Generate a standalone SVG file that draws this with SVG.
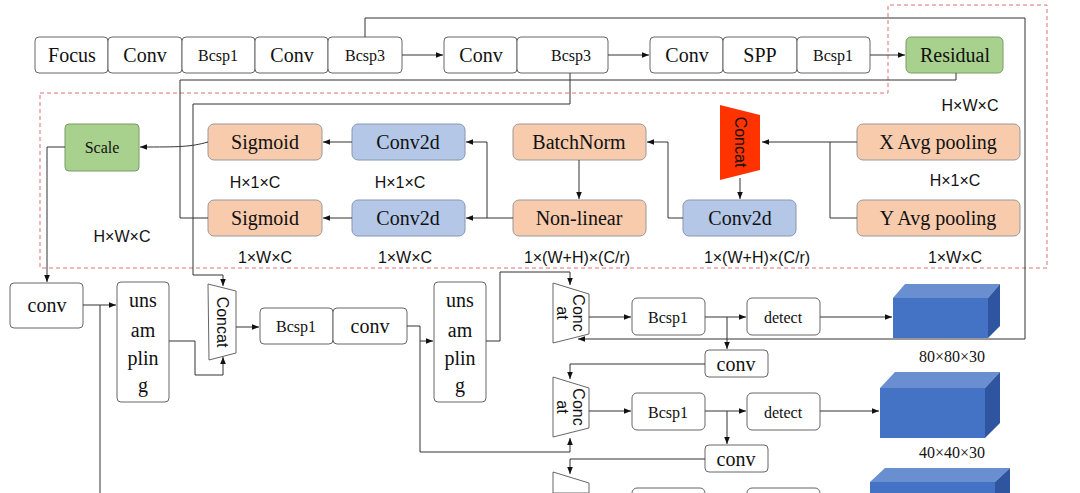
<svg xmlns="http://www.w3.org/2000/svg" width="1080" height="493" viewBox="0 0 1080 493">
<defs>
<marker id="a" viewBox="0 0 10 10" refX="10" refY="5" markerWidth="7" markerHeight="7" orient="auto"><path d="M0,1L10,5L0,9z" fill="#111"/></marker>
<style>
.b{fill:#fff;stroke:#666;stroke-width:1}
.o{fill:#f8cbad;stroke:#999;stroke-width:1}
.u{fill:#b4c7e7;stroke:#8896b0;stroke-width:1}
.g{fill:#a9d18e;stroke:#7a9a68;stroke-width:1}
.t{font-family:"Liberation Serif",serif;font-size:20px;fill:#111;text-anchor:middle;dominant-baseline:central}
.s{font-family:"Liberation Serif",serif;font-size:16px;fill:#111;text-anchor:middle;dominant-baseline:central}
.l{font-family:"Liberation Sans",sans-serif;font-size:16px;fill:#111;text-anchor:middle;dominant-baseline:central}
.c path,.c polyline,.c line{fill:none;stroke:#333;stroke-width:1}
.ar{marker-end:url(#a)}
</style>
</defs>
<rect width="1080" height="493" fill="#fff"/>
<path d="M40,93H888V5H1047V268H40Z" fill="none" stroke="#e07070" stroke-dasharray="4,3" stroke-width="1"/>
<g id="top">
<rect class="b" x="35" y="37" width="73" height="36" rx="4"/><text class="t" x="72" y="55">Focus</text>
<rect class="b" x="108" y="37" width="74" height="36" rx="4"/><text class="t" x="145" y="55">Conv</text>
<rect class="b" x="182" y="37" width="73" height="36" rx="4"/><text class="s" x="218" y="55">Bcsp1</text>
<rect class="b" x="255" y="37" width="73" height="36" rx="4"/><text class="t" x="292" y="55">Conv</text>
<rect class="b" x="328" y="37" width="74" height="36" rx="4"/><text class="s" x="365" y="55">Bcsp3</text>
<rect class="b" x="444" y="37" width="73" height="36" rx="4"/><text class="t" x="481" y="55">Conv</text>
<rect class="b" x="517" y="37" width="91" height="36" rx="4"/><text class="s" x="571" y="55">Bcsp3</text>
<rect class="b" x="650" y="37" width="73" height="36" rx="4"/><text class="t" x="687" y="55">Conv</text>
<rect class="b" x="723" y="37" width="74" height="36" rx="4"/><text class="t" x="760" y="55">SPP</text>
<rect class="b" x="797" y="37" width="73" height="36" rx="4"/><text class="s" x="833" y="55">Bcsp1</text>
</g>
<g id="residual"><rect class="g" x="906" y="37" width="97" height="36" rx="5"/><text class="t" x="955" y="55">Residual</text></g>
<g id="mid">
<rect class="g" x="65" y="124" width="74" height="47" rx="4"/><text class="s" x="102" y="147">Scale</text>
<rect class="o" x="208" y="124" width="114" height="36" rx="6"/><text class="t" x="265" y="142">Sigmoid</text>
<rect class="u" x="352" y="124" width="113" height="36" rx="6"/><text class="t" x="408" y="142">Conv2d</text>
<rect class="o" x="513" y="124" width="133" height="36" rx="6"/><text class="t" x="579" y="142">BatchNorm</text>
<polygon points="720,105 760,115 760,170 720,180" fill="#ff3300"/>
<text class="l" transform="translate(740,142) rotate(90)" fill="#222">Concat</text>
<rect class="o" x="857" y="124" width="163" height="36" rx="6"/><text class="t" x="938" y="142">X Avg pooling</text>
<rect class="o" x="208" y="200" width="114" height="36" rx="6"/><text class="t" x="265" y="218">Sigmoid</text>
<rect class="u" x="352" y="200" width="113" height="36" rx="6"/><text class="t" x="408" y="218">Conv2d</text>
<rect class="o" x="513" y="200" width="133" height="36" rx="6"/><text class="t" x="579" y="218">Non-linear</text>
<rect class="u" x="683" y="200" width="113" height="36" rx="6"/><text class="t" x="740" y="218">Conv2d</text>
<rect class="o" x="857" y="200" width="163" height="36" rx="6"/><text class="t" x="938" y="218">Y Avg pooling</text>
</g>
<g id="labels">
<text class="l" x="970" y="105">H×W×C</text>
<text class="l" x="255" y="182">H×1×C</text>
<text class="l" x="400" y="182">H×1×C</text>
<text class="l" x="955" y="180">H×1×C</text>
<text class="l" x="122" y="236">H×W×C</text>
<text class="l" x="265" y="257">1×W×C</text>
<text class="l" x="405" y="257">1×W×C</text>
<text class="l" x="577" y="257">1×(W+H)×(C/r)</text>
<text class="l" x="757" y="257">1×(W+H)×(C/r)</text>
<text class="l" x="955" y="257">1×W×C</text>
<text class="s" x="952" y="356">80×80×30</text>
<text class="s" x="952" y="452">40×40×30</text>
</g>
<g id="bottom">
<rect class="b" x="10" y="283" width="73" height="45" rx="4"/><text class="t" x="47" y="305">conv</text>
<rect class="b" x="117" y="282" width="52" height="120" rx="4"/>
<text class="t" x="143" y="300">uns</text><text class="t" x="143" y="330">am</text><text class="t" x="143" y="358">plin</text><text class="t" x="143" y="385">g</text>
<polygon class="b" points="208,284 236,291 236,353 209,360"/>
<text class="l" transform="translate(222,322) rotate(90)">Concat</text>
<rect class="b" x="260" y="308" width="73" height="36" rx="4"/><text class="s" x="296" y="326">Bcsp1</text>
<rect class="b" x="333" y="308" width="74" height="36" rx="4"/><text class="t" x="370" y="326">conv</text>
<rect class="b" x="434" y="282" width="52" height="120" rx="4"/>
<text class="t" x="460" y="300">uns</text><text class="t" x="460" y="330">am</text><text class="t" x="460" y="358">plin</text><text class="t" x="460" y="385">g</text>
</g>
<g id="heads">
<polygon class="b" points="553,283 589,294 589,334 553,343"/>
<text class="l" transform="translate(578,313) rotate(90)">Conc</text><text class="l" transform="translate(562,313) rotate(90)">at</text>
<rect class="b" x="632" y="298" width="73" height="37" rx="5"/><text class="s" x="668" y="317">Bcsp1</text>
<rect class="b" x="747" y="298" width="73" height="37" rx="5"/><text class="s" x="783" y="317">detect</text>
<rect class="b" x="705" y="350" width="63" height="27" rx="4"/><text class="t" x="736" y="364">conv</text>
<polygon class="b" points="553,377 589,388 589,428 553,437"/>
<text class="l" transform="translate(578,407) rotate(90)">Conc</text><text class="l" transform="translate(562,407) rotate(90)">at</text>
<rect class="b" x="632" y="393" width="73" height="37" rx="5"/><text class="s" x="668" y="412">Bcsp1</text>
<rect class="b" x="747" y="393" width="73" height="37" rx="5"/><text class="s" x="783" y="412">detect</text>
<rect class="b" x="705" y="445" width="63" height="27" rx="4"/><text class="t" x="736" y="459">conv</text>
<polygon class="b" points="553,472 589,483 589,493 553,493"/>
<rect class="b" x="632" y="488" width="73" height="20" rx="5"/>
<rect class="b" x="747" y="488" width="73" height="20" rx="5"/>
</g>
<g id="cubes">
<polygon points="893,298 905,284 1000,284 988,298" fill="#6a8fd0"/>
<polygon points="988,298 1000,284 1000,326 988,338" fill="#2f55a0"/>
<rect x="893" y="298" width="95" height="40" fill="#4472c4"/>
<polygon points="880,388 895,372 1000,372 985,388" fill="#6a8fd0"/>
<polygon points="985,388 1000,372 1000,423 985,438" fill="#2f55a0"/>
<rect x="880" y="388" width="105" height="50" fill="#4472c4"/>
<polygon points="870,482 885,468 1010,468 995,482" fill="#6a8fd0"/>
<polygon points="995,482 1010,468 1010,493 995,493" fill="#2f55a0"/>
<rect x="870" y="482" width="125" height="11" fill="#4472c4"/>
</g>
<g id="connectors" class="c">
<line class="ar" x1="402" y1="55" x2="443" y2="55"/>
<line class="ar" x1="608" y1="55" x2="649" y2="55"/>
<line class="ar" x1="870" y1="55" x2="905" y2="55"/>
<polyline class="ar" points="365,37 365,18 1025,18 1025,339 578,339"/>
<polyline points="956,73 956,80 180,80 180,218 208,218"/>
<polyline class="ar" points="570,73 570,104 193,104 193,275 223,275 223,286"/>
<line class="ar" x1="857" y1="142" x2="762" y2="142"/>
<polyline points="857,218 830,218 830,142"/>
<line class="ar" x1="740" y1="178" x2="740" y2="199"/>
<polyline class="ar" points="683,218 668,218 668,142 647,142"/>
<line class="ar" x1="579" y1="160" x2="579" y2="199"/>
<line class="ar" x1="513" y1="218" x2="466" y2="218"/>
<polyline class="ar" points="487,218 487,142 466,142"/>
<line class="ar" x1="352" y1="142" x2="323" y2="142"/>
<line class="ar" x1="352" y1="218" x2="323" y2="218"/>
<path class="ar" d="M208,142 C190,147 180,147 140,147"/>
<polyline class="ar" points="65,147 47,147 47,282"/>
<line class="ar" x1="83" y1="305" x2="116" y2="305"/>
<line x1="100" y1="305" x2="100" y2="493"/>
<polyline class="ar" points="169,341 195,341 195,375 223,375 223,357"/>
<line class="ar" x1="236" y1="327" x2="259" y2="327"/>
<polyline class="ar" points="407,326 420,326 420,341 433,341"/>
<polyline class="ar" points="420,341 420,452 570,452 570,438"/>
<polyline class="ar" points="486,341 500,341 500,272 570,272 570,285"/>
<line class="ar" x1="589" y1="317" x2="631" y2="317"/>
<line class="ar" x1="705" y1="317" x2="746" y2="317"/>
<line class="ar" x1="820" y1="317" x2="892" y2="317"/>
<line class="ar" x1="727" y1="317" x2="727" y2="349"/>
<polyline class="ar" points="705,364 570,364 570,379"/>
<line class="ar" x1="589" y1="411" x2="631" y2="411"/>
<line class="ar" x1="705" y1="411" x2="746" y2="411"/>
<line class="ar" x1="820" y1="411" x2="879" y2="411"/>
<line class="ar" x1="727" y1="411" x2="727" y2="444"/>
<polyline class="ar" points="705,459 570,459 570,474"/>
</g>
</svg>
